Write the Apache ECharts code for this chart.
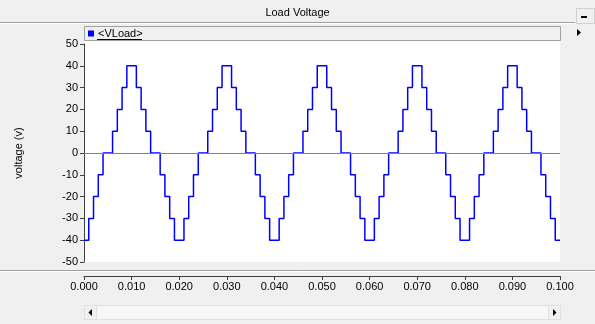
<!DOCTYPE html>
<html>
<head>
<meta charset="utf-8">
<script src="https://cdn.jsdelivr.net/npm/echarts@6/dist/echarts.min.js"></script>
<style>
html,body{margin:0;padding:0;background:#f0f0f0;}
#c{width:595px;height:324px;}
</style>
</head>
<body>
<div id="c"></div>
<script>
// Data: switching instants (s) and load voltage levels (V)
var times = [
  0.000, 0.001, 0.002, 0.003, 0.004, 0.006, 0.007, 0.008, 0.009, 0.011, 0.012, 0.013, 0.014, 0.016, 0.017, 0.018, 0.019,
  0.021, 0.022, 0.023, 0.024, 0.026, 0.027, 0.028, 0.029, 0.031, 0.032, 0.033, 0.034, 0.036, 0.037, 0.038, 0.039,
  0.041, 0.042, 0.043, 0.044, 0.046, 0.047, 0.048, 0.049, 0.051, 0.052, 0.053, 0.054, 0.056, 0.057, 0.058, 0.059,
  0.061, 0.062, 0.063, 0.064, 0.066, 0.067, 0.068, 0.069, 0.071, 0.072, 0.073, 0.074, 0.076, 0.077, 0.078, 0.079,
  0.081, 0.082, 0.083, 0.084, 0.086, 0.087, 0.088, 0.089, 0.091, 0.092, 0.093, 0.094, 0.096, 0.097, 0.098, 0.099,
  0.100
];
var vload = [
  -40, -30, -20, -10, 0, 10, 20, 30, 40, 30, 20, 10, 0, -10, -20, -30, -40,
  -30, -20, -10, 0, 10, 20, 30, 40, 30, 20, 10, 0, -10, -20, -30, -40,
  -30, -20, -10, 0, 10, 20, 30, 40, 30, 20, 10, 0, -10, -20, -30, -40,
  -30, -20, -10, 0, 10, 20, 30, 40, 30, 20, 10, 0, -10, -20, -30, -40,
  -30, -20, -10, 0, 10, 20, 30, 40, 30, 20, 10, 0, -10, -20, -30, -40,
  -40
];
var seriesName = '<VLoad>';
var chartTitle = 'Load Voltage';
var yAxisName = 'voltage (v)';
var xTickLabels = ['0.000','0.010','0.020','0.030','0.040','0.050','0.060','0.070','0.080','0.090','0.100'];

var points = times.map(function (t, i) { return [t, vload[i]]; });
var FONT = 'Liberation Sans, Arial, sans-serif';

var chart = echarts.init(document.getElementById('c'), null, {renderer: 'canvas'});
chart.setOption({
  backgroundColor: '#f0f0f0',
  animation: false,
  title: {
    text: chartTitle, left: 'center', top: 7, padding: 0,
    textStyle: {fontFamily: FONT, fontSize: 11, fontWeight: 'normal', color: '#000'}
  },
  legend: {
    left: 88, top: 28, padding: 0, icon: 'rect', itemWidth: 6, itemHeight: 6, itemGap: 4,
    textStyle: {fontFamily: FONT, fontSize: 11, color: '#000', padding: [0, 0, 0, -1]},
    data: [seriesName]
  },
  graphic: [
    // title bar separator
    {type: 'line', shape: {x1: 0, y1: 22.5, x2: 575, y2: 22.5}, style: {stroke: '#a0a0a0', lineWidth: 1}, z: 0},
    {type: 'line', shape: {x1: 0, y1: 23.5, x2: 575, y2: 23.5}, style: {stroke: '#ffffff', lineWidth: 1}, z: 0},
    // minimize button
    {type: 'rect', shape: {x: 576.5, y: 8.5, width: 18, height: 15}, style: {fill: '#f0f0f0', stroke: '#d0d0d0'}, z: 0},
    {type: 'rect', shape: {x: 581, y: 16, width: 6, height: 2}, style: {fill: '#000'}, z: 1},
    // small right arrow at top-right
    {type: 'polygon', shape: {points: [[577, 29], [581, 32.5], [577, 36]]}, style: {fill: '#000'}, z: 1},
    // legend box
    {type: 'rect', shape: {x: 84.5, y: 26.5, width: 476, height: 14}, style: {fill: '#f0f0f0', stroke: '#a0a0a0'}, z: 0},
    // legend underline
    {type: 'line', shape: {x1: 97, y1: 39.5, x2: 142, y2: 39.5}, style: {stroke: '#000', lineWidth: 1}, z: 5},
    // white plot background
    {type: 'rect', shape: {x: 84, y: 41, width: 476, height: 221}, style: {fill: '#ffffff'}, z: -10},
    // separator above x axis
    {type: 'line', shape: {x1: 0, y1: 270.5, x2: 595, y2: 270.5}, style: {stroke: '#a0a0a0', lineWidth: 1}, z: 0},
    {type: 'line', shape: {x1: 0, y1: 271.5, x2: 595, y2: 271.5}, style: {stroke: '#ffffff', lineWidth: 1}, z: 0},
    // scrollbar
    {type: 'rect', shape: {x: 84.5, y: 305.5, width: 476, height: 14}, style: {fill: '#f7f7f7', stroke: '#e0e0e0'}, z: 0},
    {type: 'rect', shape: {x: 84.5, y: 305.5, width: 12, height: 14}, style: {fill: '#f0f0f0', stroke: '#e0e0e0'}, z: 0},
    {type: 'rect', shape: {x: 548.5, y: 305.5, width: 12, height: 14}, style: {fill: '#f0f0f0', stroke: '#e0e0e0'}, z: 0},
    {type: 'polygon', shape: {points: [[92, 309], [88.5, 312.5], [92, 316]]}, style: {fill: '#000'}, z: 1},
    {type: 'polygon', shape: {points: [[553, 309], [556.5, 312.5], [553, 316]]}, style: {fill: '#000'}, z: 1}
  ],
  grid: {left: 84, right: 35, top: 44, bottom: 62, containLabel: false},
  xAxis: {
    type: 'value', min: 0, max: 0.1, interval: 0.01, offset: 14,
    axisLine: {show: true, onZero: false, lineStyle: {color: '#404040', width: 1}},
    axisTick: {show: true, inside: false, length: 4, lineStyle: {color: '#404040'}},
    axisLabel: {
      fontFamily: FONT, fontSize: 11, color: '#000', margin: 5,
      formatter: function (v) { return xTickLabels[Math.round(v * 100)]; }
    },
    splitLine: {show: false}
  },
  yAxis: {
    type: 'value', min: -50, max: 50, interval: 10,
    name: yAxisName, nameLocation: 'middle', nameGap: 60, nameRotate: 90,
    nameTextStyle: {fontFamily: FONT, fontSize: 11, color: '#000'},
    axisLine: {show: true, onZero: false, lineStyle: {color: '#404040', width: 1}},
    axisTick: {show: true, inside: false, length: 4, lineStyle: {color: '#404040'}},
    axisLabel: {fontFamily: FONT, fontSize: 11, color: '#000', margin: 6},
    splitLine: {show: false}
  },
  series: [{
    name: seriesName,
    type: 'line',
    step: 'end',
    data: points,
    showSymbol: false,
    color: '#0000ff',
    lineStyle: {color: '#0000ff', width: 1.5},
    markLine: {
      silent: true, symbol: 'none', animation: false,
      label: {show: false},
      lineStyle: {color: '#808080', type: 'solid', width: 1},
      data: [{yAxis: 0}]
    },
    z: 3
  }]
});
</script>
</body>
</html>
